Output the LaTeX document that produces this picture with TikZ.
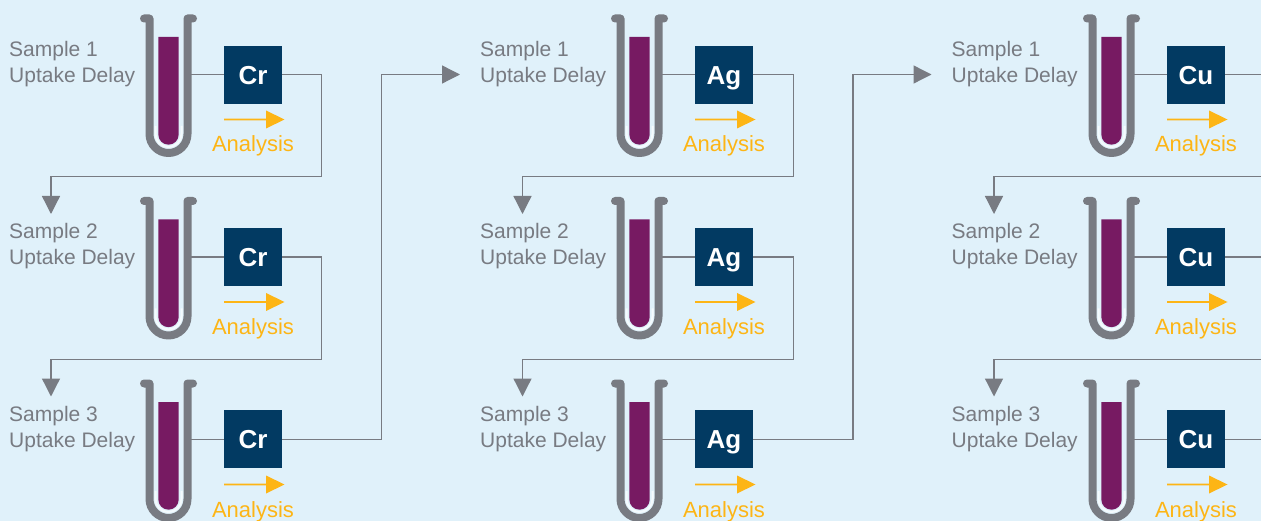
\documentclass[tikz,border=0pt]{standalone}
\usepackage{fontspec}
\usetikzlibrary{arrows.meta}
\setmainfont{Liberation Sans}
\definecolor{bgc}{HTML}{E0F1FA}
\definecolor{tubegray}{HTML}{787B82}
\definecolor{liquid}{HTML}{771A62}
\definecolor{navy}{HTML}{023A62}
\definecolor{amber}{HTML}{FDB515}
\definecolor{ringc}{HTML}{F5FBFE}
\tikzset{
  tubewall/.style={draw=tubegray,line width=8pt,line cap=round,line join=round},
  ringline/.style={draw=ringc,line width=2pt},
  wire/.style={draw=tubegray,line width=1.3pt},
  wirearrow/.style={wire,-{Triangle[length=18pt,width=18pt,color=tubegray]}},
  elembox/.style={fill=navy,minimum width=58pt,minimum height=58pt,inner sep=0pt,text=white,font=\fontsize{26}{26}\selectfont\bfseries,text height=18.5pt,text depth=0pt},
  samplelabel/.style={anchor=north west,inner sep=0pt,text=tubegray,align=left,font=\fontsize{21}{26}\selectfont},
  analysislabel/.style={inner sep=0pt,anchor=base,text=amber,font=\fontsize{22}{24}\selectfont},
  amberhead/.style={fill=amber,draw=none},
}
\newcommand{\unitblock}[5]{% x offset, y offset, id, element, box centre y
  \begin{scope}[shift={(#1,#2)}]
    \draw[ringline] (155.5,126) -- (155.5,134) arc[start angle=180,end angle=0,radius=13] -- (181.5,126);
    \fill[liquid] (158.3,37) -- (178.7,37) -- (178.7,134.5) arc[start angle=0,end angle=180,radius=10.2] -- cycle;
    \draw[tubewall] (144,18.5) -- (149.5,18.5) -- (149.5,134) arc[start angle=180,end angle=0,radius=19] -- (187.5,18.5) -- (193,18.5);
    \coordinate (t#3) at (191,74.5);
    \node[elembox] (e#3) at (253,#5) {#4};
    \draw[wire] (t#3) -- (e#3.west |- t#3);
    \fill[amberhead] (224,118.7) -- (266,118.7) -- (266,110.5) -- (284.5,119.5) -- (266,128.5) -- (266,120.3) -- (224,120.3) -- cycle;
    \node[analysislabel] (n#3) at (253,152) {Analysis};
  \end{scope}
}
\begin{document}
\begin{tikzpicture}[x=1pt,y=-1pt]
\useasboundingbox (0,0) rectangle (1261,521);
\fill[bgc] (0,0) rectangle (1261,521);
% column 1
\unitblock{0}{0}{aa}{Cr}{75}
\unitblock{0}{182.5}{ab}{Cr}{74.5}
\unitblock{0}{365}{ac}{Cr}{74}
% column 2
\unitblock{471}{0}{ba}{Ag}{75}
\unitblock{471}{182.5}{bb}{Ag}{74.5}
\unitblock{471}{365}{bc}{Ag}{74}
% column 3
\unitblock{943}{0}{ca}{Cu}{75}
\unitblock{943}{182.5}{cb}{Cu}{74.5}
\unitblock{943}{365}{cc}{Cu}{74}
% labels
\node[samplelabel] (laa) at (9,41.5) {Sample 1\\Uptake Delay};
\node[samplelabel] (lab) at (9,223.5) {Sample 2\\Uptake Delay};
\node[samplelabel] (lac) at (9,406.5) {Sample 3\\Uptake Delay};
\node[samplelabel] (lba) at (480,41.5) {Sample 1\\Uptake Delay};
\node[samplelabel] (lbb) at (480,223.5) {Sample 2\\Uptake Delay};
\node[samplelabel] (lbc) at (480,406.5) {Sample 3\\Uptake Delay};
\node[samplelabel] (lca) at (951.5,41.5) {Sample 1\\Uptake Delay};
\node[samplelabel] (lcb) at (951.5,223.5) {Sample 2\\Uptake Delay};
\node[samplelabel] (lcc) at (951.5,406.5) {Sample 3\\Uptake Delay};
% connector anchors
\coordinate (iab) at (51,214);
\coordinate (iac) at (51,396.5);
\coordinate (iba) at (460,74.5);
\coordinate (ibb) at (522.5,214);
\coordinate (ibc) at (522.5,396.5);
\coordinate (ica) at (931.5,74.5);
\coordinate (icb) at (994,214);
\coordinate (icc) at (994,396.5);
\coordinate (xca) at (1261,74.5);
\coordinate (xcb) at (1261,257);
\coordinate (xcc) at (1261,439.5);
\coordinate (rca) at (1261,176.5);
\coordinate (rcb) at (1261,359.5);
% connectors
\draw[wirearrow] (eaa.east |- taa) -- (321.5,74.5) -- (321.5,176.5) -- (51,176.5) -- (iab);
\draw[wirearrow] (eab.east |- tab) -- (321.5,257) -- (321.5,359.5) -- (51,359.5) -- (iac);
\draw[wirearrow] (eac.east |- tac) -- (381.5,439.5) -- (381.5,74.5) -- (iba);
\draw[wirearrow] (eba.east |- tba) -- (793.5,74.5) -- (793.5,176.5) -- (522.5,176.5) -- (ibb);
\draw[wirearrow] (ebb.east |- tbb) -- (793.5,257) -- (793.5,359.5) -- (522.5,359.5) -- (ibc);
\draw[wirearrow] (ebc.east |- tbc) -- (853,439.5) -- (853,74.5) -- (ica);
\draw[wire] (eca.east |- tca) -- (xca);
\draw[wire] (ecb.east |- tcb) -- (xcb);
\draw[wire] (ecc.east |- tcc) -- (xcc);
\draw[wirearrow] (rca) -- (994,176.5) -- (icb);
\draw[wirearrow] (rcb) -- (994,359.5) -- (icc);
\end{tikzpicture}
\end{document}
